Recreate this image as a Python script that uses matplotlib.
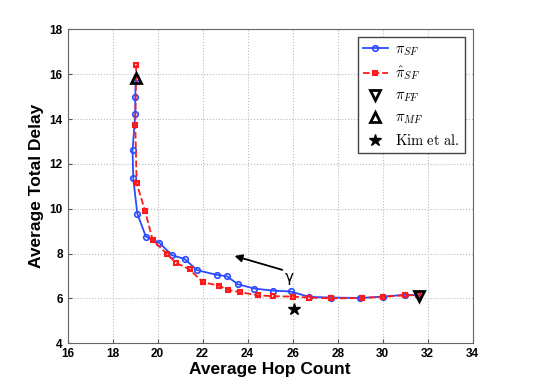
import numpy as np
import matplotlib
matplotlib.use("Agg")
import matplotlib.pyplot as plt

plt.rcParams['font.family'] = ['Liberation Sans', 'DejaVu Sans']
plt.rcParams['mathtext.fontset'] = 'cm'

# pi_SF (blue)
sf_hops = [19.03, 19.01, 19.01, 18.89, 18.92, 19.10, 19.48, 20.07, 20.64, 21.20, 21.76,
           22.64, 23.08, 23.57, 24.30, 25.11, 25.91, 26.73, 27.69, 28.99, 30.00, 30.98, 31.59]
sf_delay = [15.85, 14.97, 14.23, 12.62, 11.36, 9.78, 8.76, 8.49, 7.93, 7.76, 7.26,
            7.05, 6.99, 6.63, 6.44, 6.35, 6.31, 6.07, 6.04, 6.02, 6.08, 6.16, 6.14]

# pi_SF hat (red)
sfh_hops = [19.05, 19.01, 19.07, 19.45, 19.78, 20.43, 20.80, 21.42, 22.01, 22.74, 23.11,
            23.66, 24.44, 25.14, 26.00, 26.73, 27.70, 29.07, 30.00, 30.98, 31.59]
sfh_delay = [16.42, 13.74, 11.14, 9.89, 8.61, 7.97, 7.60, 7.30, 6.72, 6.57, 6.38,
             6.28, 6.14, 6.10, 6.08, 6.04, 6.00, 6.02, 6.07, 6.14, 6.14]

ff_point = (31.6, 6.12)
mf_point = (19.03, 15.85)
kim_point = (26.04, 5.52)

fig = plt.figure(figsize=(5.49, 3.87), dpi=100)
ax = fig.add_axes([0.123, 0.113, 0.738, 0.811])

ax.plot(sf_hops, sf_delay, color='#2a4bff', lw=1.3, marker='o', ms=4,
        mfc='none', mew=1.2, label=r'$\pi_{SF}$', zorder=3)
ax.plot(sfh_hops, sfh_delay, color='#ff1a1a', lw=1.3, ls='--', marker='s', ms=3.5,
        mfc='none', mew=1.5, label=r'$\hat{\pi}_{SF}$', zorder=4)
ax.plot(*ff_point, ls='none', marker='v', ms=6.5, mfc='none', mec='black', mew=2,
        label=r'$\pi_{FF}$', zorder=5)
ax.plot(*mf_point, ls='none', marker='^', ms=6.5, mfc='none', mec='black', mew=2,
        label=r'$\pi_{MF}$', zorder=5)
ax.plot(*kim_point, ls='none', marker='*', ms=9, color='black',
        label=r'$\mathrm{Kim\ et\ al.}$', zorder=5)

ax.annotate('', xy=(23.3, 7.93), xytext=(25.66, 7.24),
            arrowprops=dict(arrowstyle='-|>', color='black', lw=1.3, mutation_scale=11))
ax.text(25.85, 6.93, 'γ', fontsize=11, ha='center', va='center', family='DejaVu Sans')

ax.set_xlim(16, 34)
ax.set_ylim(4, 18)
ax.set_xticks(np.arange(16, 35, 2))
ax.set_yticks(np.arange(4, 19, 2))
ax.tick_params(direction='in', labelsize=8.5, length=3, color='#555555')
for lab in ax.get_xticklabels() + ax.get_yticklabels():
    lab.set_fontweight('bold')
for s in ax.spines.values():
    s.set_color('#666666')
ax.grid(True, ls=':', color='#bbbbbb', lw=0.8)

ax.set_xlabel('Average Hop Count', fontsize=12.5, fontweight='bold', labelpad=1)
ax.set_ylabel('Average Total Delay', fontsize=12.5, fontweight='bold', labelpad=4)

leg = ax.legend(loc='upper right', bbox_to_anchor=(0.98, 0.975), fontsize=10.5,
                fancybox=False, edgecolor='#444444', framealpha=1,
                handlelength=1.7, handletextpad=0.5, borderpad=0.35,
                labelspacing=0.45, borderaxespad=0)
leg.get_frame().set_linewidth(1.0)

plt.savefig('out.png', dpi=100)
